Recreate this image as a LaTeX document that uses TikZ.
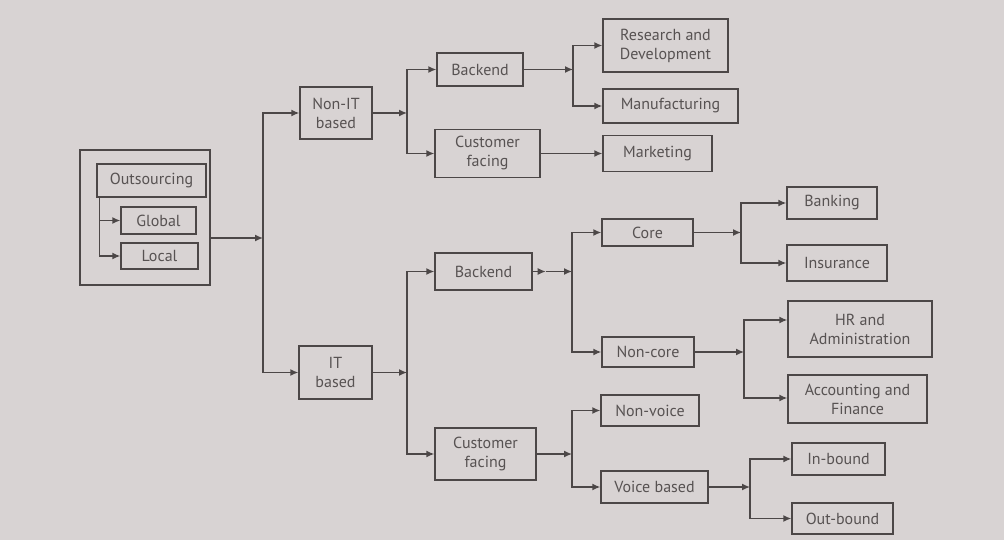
\documentclass[tikz,border=0pt]{standalone}
\usepackage{fontspec}
\setmainfont{PT Sans}
\usetikzlibrary{arrows.meta}
\definecolor{paper}{HTML}{D8D3D3}
\definecolor{ink}{HTML}{4C4747}
\definecolor{label}{HTML}{575252}
\begin{document}
\begin{tikzpicture}[x=1pt,y=-1pt,
  box/.style={draw=ink, line width=1.4pt, text=label, align=center, inner sep=0pt,
              font=\fontsize{16}{19}\selectfont},
  link/.style={draw=ink, line width=1.4pt},
  tip/.style={-{Latex[length=8pt,width=7pt]}}]
% canvas
\fill[paper] (0,0) rectangle (1004,540);
\useasboundingbox (0,0) rectangle (1004,540);

% outsourcing group
\node[box, minimum width=130, minimum height=135] (group) at (145,217.5) {};
\node[box, minimum width=109, minimum height=33] (out) at (151.5,180.5) {Outsourcing};
\node[box, minimum width=75, minimum height=27] (global) at (158.5,220.5) {Global};
\node[box, minimum width=77, minimum height=26] (local) at (159.5,256) {Local};
\draw[link,tip] ([xshift=3pt]out.south west) |- (global);
\draw[link,tip] ([xshift=3pt]out.south west) |- (local);

% first level
\node[box, minimum width=72, minimum height=52] (nonit) at (336,113) {Non-IT\\based};
\node[box, minimum width=73, minimum height=53] (it) at (335.5,372.5) {IT\\based};
\coordinate (j0) at (263,238);
\draw[link,tip] (group.east |- j0) -- (j0);
\draw[link,tip] (j0) |- (nonit);
\draw[link,tip] (j0) |- (it);

% non-IT branch
\node[box, minimum width=86, minimum height=33] (backA) at (480,69.5) {Backend};
\node[box, minimum width=105, minimum height=48] (custA) at (487.5,153.5) {Customer\\facing};
\coordinate (j1) at (407,113);
\draw[link,tip] (nonit) -- (j1);
\draw[link,tip] (j1) |- (backA);
\draw[link,tip] (j1) |- (custA);

\node[box, minimum width=125, minimum height=53] (rnd) at (665.5,45.5) {Research and\\Development};
\node[box, minimum width=135, minimum height=34] (manu) at (670.5,106) {Manufacturing};
\node[box, minimum width=109, minimum height=36] (mkt) at (657.5,153.5) {Marketing};
\coordinate (j2) at (573,69.5);
\draw[link,tip] (backA) -- (j2);
\draw[link,tip] (j2) |- (rnd);
\draw[link,tip] (j2) |- (manu);
\draw[link,tip] (custA) -- (mkt);

% IT branch
\node[box, minimum width=97, minimum height=37] (backB) at (483.5,271.5) {Backend};
\node[box, minimum width=101, minimum height=52] (custB) at (485.5,454) {Customer\\facing};
\coordinate (j3) at (407,372.5);
\draw[link,tip] (it) -- (j3);
\draw[link,tip] (j3) |- (backB);
\draw[link,tip] (j3) |- (custB);

% IT backend
\node[box, minimum width=91, minimum height=27] (core) at (647.5,232.5) {Core};
\node[box, minimum width=92, minimum height=30] (noncore) at (648,352) {Non-core};
\coordinate (j4) at (572,271.5);
\draw[link,tip] (backB.east) -- ++(13,0) coordinate (m4);
\draw[link,tip] (m4) -- (j4);
\draw[link,tip] (j4) |- (core);
\draw[link,tip] (j4) |- (noncore);

\node[box, minimum width=90, minimum height=32] (banking) at (832,203) {Banking};
\node[box, minimum width=100, minimum height=36] (insur) at (837,263) {Insurance};
\coordinate (j5) at (741,232.5);
\draw[link,tip] (core) -- (j5);
\draw[link,tip] (j5) |- (banking);
\draw[link,tip] (j5) |- (insur);

\node[box, minimum width=144, minimum height=56] (hr) at (860,329) {HR and\\Administration};
\node[box, minimum width=139, minimum height=48] (acc) at (857.5,399) {Accounting and\\Finance};
\coordinate (j6) at (744,352);
\draw[link,tip] (noncore) -- (j6);
\draw[link,tip] (j6) |- (hr.west |- 744,320);
\draw[link,tip] (j6) |- (acc.west |- 744,398);

% IT customer facing
\node[box, minimum width=98, minimum height=31] (nonvoice) at (650,410.5) {Non-voice};
\node[box, minimum width=107, minimum height=32] (voice) at (654.5,487) {Voice based};
\coordinate (j7) at (572,454);
\draw[link,tip] (custB) -- (j7);
\draw[link,tip] (j7) |- (nonvoice);
\draw[link,tip] (j7) |- (voice);

\node[box, minimum width=93, minimum height=32] (inb) at (838.5,459) {In-bound};
\node[box, minimum width=101, minimum height=31] (outb) at (842.5,518.5) {Out-bound};
\coordinate (j8) at (750,487);
\draw[link,tip] (voice) -- (j8);
\draw[link,tip] (j8) |- (inb);
\draw[link,tip] (j8) |- (outb);
\end{tikzpicture}
\end{document}
